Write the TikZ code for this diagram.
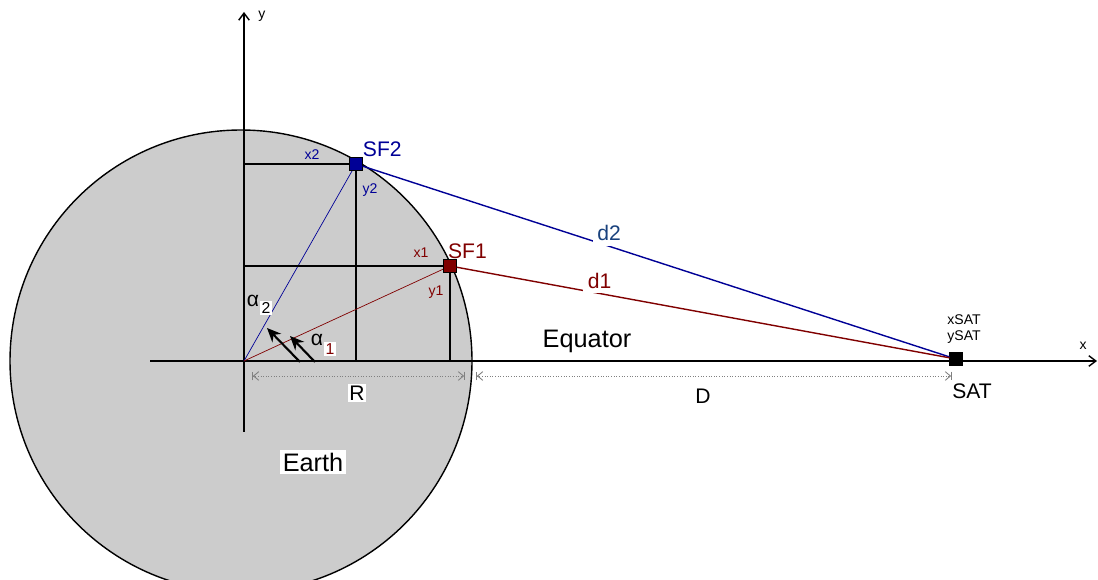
\documentclass[tikz,border=0pt]{standalone}
\usepackage{fontspec}
\setmainfont{Liberation Sans}
\usetikzlibrary{arrows.meta,positioning}
\definecolor{sfblue}{RGB}{0,0,150}
\definecolor{sfred}{RGB}{128,0,0}
\definecolor{dblue}{RGB}{25,65,125}
\begin{document}
\begin{tikzpicture}[x=0.02cm, y=-0.02cm,
    axis/.style={line width=0.8pt, -{Straight Barb[length=4pt,width=6pt]}},
    proj/.style={line width=1.1pt},
    sfbox/.style={draw=black, line width=0.4pt, minimum size=0.25cm, inner sep=0pt},
    dim/.style={gray, densely dotted, line width=0.5pt,
        {Bar[width=5pt]Straight Barb[length=3pt,width=5pt]}-{Straight Barb[length=3pt,width=5pt]Bar[width=5pt]}},
    lbl/.style={font=\footnotesize, inner sep=1pt},
    dlbl/.style={font=\large, anchor=south, fill=white, inner sep=2.5pt},
    sub/.style={font=\small, fill=white, inner sep=1pt}]
    % Frame of the picture
    \useasboundingbox (0,0) rectangle (1098,580);
    \clip (0,0) rectangle (1098,580);

    % Earth
    \draw[fill=gray!40, line width=0.8pt] (241,361) circle (231);

    % Axes
    \coordinate (o) at (244,361);
    \coordinate (xa) at (150,361);
    \coordinate (xb) at (1097,361);
    \coordinate (ya) at (244,432);
    \coordinate (yb) at (244,12);
    \draw[axis] (xa) -- (xb);
    \draw[axis] (ya) -- (yb);
    \node[font=\footnotesize] (xlab) at (1083,346) {x};
    \node[font=\footnotesize] (ylab) at (262,16) {y};

    % Satellite
    \node[sfbox, fill=black] (sat) at (956,359) {};
    \node[font=\large, below right=10pt and -6pt of sat, inner sep=0pt] (satlab) {SAT};
    \node[font=\footnotesize, align=left, inner sep=0pt, anchor=south west] (satxy) at (947,344) {xSAT\\ySAT};

    % Stations with their projections on the axes
    \foreach \name/\pos/\col in {sf2/{356,164}/sfblue, sf1/{450,266}/sfred}{
        \draw[\col, line width=0.4pt] (o) -- (\pos);
        \draw[proj] (\pos) -- (\pos -| o);
        \draw[proj] (\pos) -- (\pos |- o);
        \node[sfbox, fill=\col] (\name) at (\pos) {};
    }
    \node[font=\large, sfblue, inner sep=0pt, above right=0pt and 0pt of sf2] (sf2lab) {SF2};
    \node[font=\large, sfred, inner sep=0pt, above right=0pt and -5pt of sf1] (sf1lab) {SF1};
    \node[lbl, sfblue] (x2) at (312,155) {x2};
    \node[lbl, sfblue] (y2) at (370,190) {y2};
    \node[lbl, sfred] (x1) at (421,253) {x1};
    \node[lbl, sfred] (y1) at (436,292) {y1};

    % Distances to the satellite
    \draw[sfblue, line width=0.8pt] (sf2) -- (sat)
        node[dlbl, pos=0.42, text=dblue] (d2) {d2};
    \draw[sfred, line width=0.8pt] (sf1) -- (sat)
        node[dlbl, pos=0.29, text=sfred] (d1) {d1};

    % Angles
    \foreach \tip/\tail in {267/300, 290/315}{
        \coordinate (at\tip) at (\tip,{361-(\tail-\tip)});
        \coordinate (af\tip) at (\tail,362);
        \draw[line width=1.2pt, -{Stealth[length=8pt,width=7pt]}] (af\tip) -- (at\tip);
    }
    \node[font=\large, inner sep=0pt] (a2) at (253,301) {α};
    \node[sub, right=0pt of a2, yshift=-4pt] (a2s) {2};
    \node[font=\large, inner sep=0pt] (a1) at (317,340) {α};
    \node[sub, text=sfred, right=0pt of a1, yshift=-5pt] (a1s) {1};

    % Dimensions
    \coordinate (r0) at (252,376);
    \coordinate (r1) at (465,376);
    \coordinate (dd0) at (476,376);
    \coordinate (dd1) at (952,376);
    \draw[dim] (r0) -- (r1);
    \draw[dim] (dd0) -- (dd1);
    \node[font=\large, fill=white, inner sep=1pt] (rlab) at (357,393) {R};
    \node[font=\large] (dlab) at (703,396) {D};

    % Names
    \node[font=\Large] (eq) at (587,341) {Equator};
    \node[font=\Large, fill=white, inner sep=1.5pt] (earth) at (313,462) {Earth};
\end{tikzpicture}
\end{document}
